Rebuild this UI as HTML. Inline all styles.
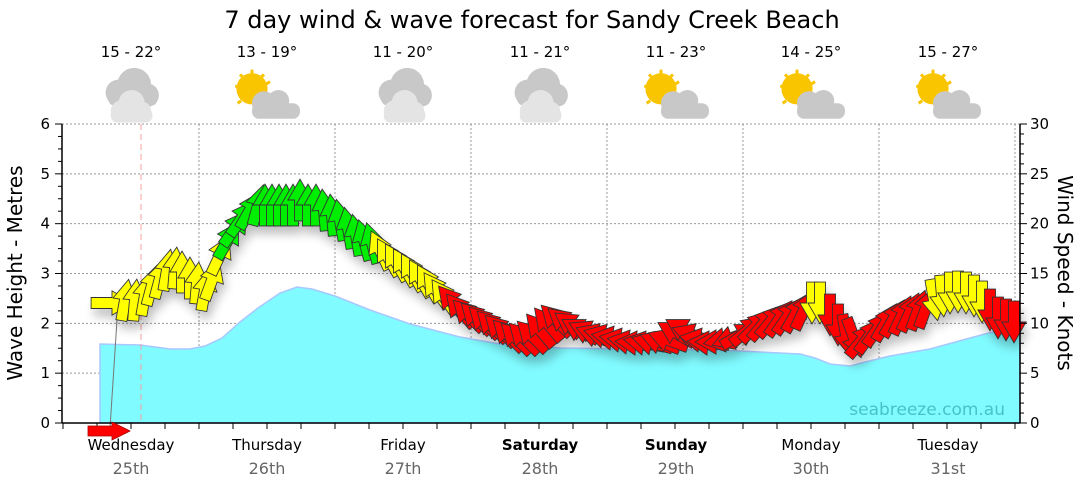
<!DOCTYPE html>
<html><head><meta charset="utf-8"><style>
body{margin:0;background:#fff;width:1080px;height:490px;overflow:hidden}
svg{display:block;font-family:"DejaVu Sans","Liberation Sans",sans-serif}
</style></head><body>
<svg id="s" width="1080" height="490" xmlns="http://www.w3.org/2000/svg">
<defs>
<filter id="sh" x="-20%" y="-20%" width="140%" height="160%"><feGaussianBlur stdDeviation="5"/></filter>
<g id="cloudG"><circle cx="-8" cy="2" r="10" fill="#c8c8c8"/><circle cx="4" cy="-4" r="13" fill="#c8c8c8"/><circle cx="14" cy="4" r="9" fill="#c8c8c8"/><rect x="-16" y="2" width="38" height="10" rx="5" fill="#c8c8c8"/>
<circle cx="-6" cy="16" r="8" fill="#e4e4e4"/><circle cx="2" cy="10" r="10" fill="#e4e4e4"/><circle cx="10" cy="16" r="7" fill="#e4e4e4"/><rect x="-14" y="14" width="32" height="11" rx="5" fill="#e4e4e4"/></g>
<g id="sunG"><g stroke="#f9c400" stroke-width="2.5"><line x1="-10" y1="-22" x2="-10" y2="-18"/><line x1="-24" y1="-8" x2="-20" y2="-8"/><line x1="-20" y1="-18" x2="-17" y2="-15"/><line x1="0" y1="-18" x2="-3" y2="-15"/><line x1="-20" y1="2" x2="-17" y2="-1"/><line x1="5" y1="-12" x2="2" y2="-10"/><line x1="-22" y1="6" x2="-19" y2="4"/></g>
<circle cx="-10" cy="-6" r="13" fill="#f9c400"/>
<circle cx="0" cy="6" r="10" fill="#c8c8c8"/><circle cx="12" cy="4" r="9" fill="#c8c8c8"/><rect x="-10" y="6" width="40" height="13" rx="6" fill="#c8c8c8"/></g>
</defs>
<text x="532" y="28" font-size="24" text-anchor="middle" fill="#000">7 day wind &amp; wave forecast for Sandy Creek Beach</text>
<g font-size="15" text-anchor="middle" fill="#000">
<text x="131" y="57">15 - 22°</text><text x="267" y="57">13 - 19°</text><text x="403" y="57">11 - 20°</text><text x="540" y="57">11 - 21°</text><text x="676" y="57">11 - 23°</text><text x="811" y="57">14 - 25°</text><text x="948" y="57">15 - 27°</text>
</g>
<use href="#cloudG" transform="translate(129,90) scale(1.3)"/><use href="#sunG" transform="translate(264,96) scale(1.2)"/><use href="#cloudG" transform="translate(402,90) scale(1.3)"/><use href="#cloudG" transform="translate(538,90) scale(1.3)"/><use href="#sunG" transform="translate(673,96) scale(1.2)"/><use href="#sunG" transform="translate(809,96) scale(1.2)"/><use href="#sunG" transform="translate(945,96) scale(1.2)"/>
<g id="grid" stroke="#999" stroke-width="1" stroke-dasharray="2,2"></g>
<path id="wave" fill="#80fbff" stroke="#a8c8ff" stroke-width="1.5"/>
<line x1="141" y1="124" x2="141" y2="423" stroke="#f0a0a0" stroke-dasharray="6,4"/>
<text x="1005" y="415" font-size="17" text-anchor="end" fill="#45c4c8">seabreeze.com.au</text>
<line x1="117" y1="320" x2="110" y2="428" stroke="#777" stroke-width="1"/>
<g id="shadow" filter="url(#sh)" opacity="0.25"></g>
<g id="arr" stroke="#333" stroke-width="0.8"></g>
<g id="axes" stroke="#000" stroke-width="1.5"></g>
<g font-size="15" fill="#000" text-anchor="end" id="ly"></g>
<g font-size="15" fill="#000" text-anchor="start" id="ry"></g>
<text transform="translate(22,273) rotate(-90)" font-size="20" text-anchor="middle">Wave Height - Metres</text>
<text transform="translate(1058,273) rotate(90)" font-size="20" text-anchor="middle">Wind Speed - Knots</text>
<g font-size="15" text-anchor="middle" fill="#000">
<text x="131" y="450">Wednesday</text><text x="267" y="450">Thursday</text><text x="403" y="450">Friday</text><text x="540" y="450" font-weight="bold">Saturday</text><text x="676" y="450" font-weight="bold">Sunday</text><text x="811" y="450">Monday</text><text x="948" y="450">Tuesday</text>
</g>
<g font-size="16" text-anchor="middle" fill="#666">
<text x="131" y="474">25th</text><text x="267" y="474">26th</text><text x="403" y="474">27th</text><text x="540" y="474">28th</text><text x="676" y="474">29th</text><text x="811" y="474">30th</text><text x="948" y="474">31st</text>
</g>
<polygon points="88,426 112,426 112,422 130,431 112,440 112,436 88,436" fill="#f00" stroke="#a00" stroke-width="0.8"/>
</svg>
<script>
var NS="http://www.w3.org/2000/svg";
function el(p,t,a,txt){var e=document.createElementNS(NS,t);for(var k in a)e.setAttribute(k,a[k]);if(txt!=null)e.textContent=txt;document.getElementById(p).appendChild(e);return e;}
var X0=62,X1=1020,Y0=423,Y6=124,m=(Y0-Y6)/6;
for(var i=1;i<=6;i++){el('grid','line',{x1:X0,x2:X1,y1:Y0-i*m,y2:Y0-i*m});}
for(var d=0;d<7;d++){var x=199+d*136;if(x<X1)el('grid','line',{x1:x,x2:x,y1:Y6,y2:Y0});}
var pts=[[100,344],[140,345],[170,349],[190,349],[205,346],[222,338],[240,322],[258,308],[280,293],[297,287],[312,289],[335,296],[370,310],[410,324],[460,337],[500,344],[560,348],[640,349],[720,350],[760,352],[800,354],[815,358],[830,364],[850,366],[865,362],[890,356],[930,349],[970,338],[1000,330],[1020,327]];
var d="M100,423 L"+pts.map(function(p){return p.join(",")}).join(" L")+" L1020,423 Z";
document.getElementById('wave').setAttribute('d',d);
el('axes','line',{x1:X0,x2:X0,y1:Y6,y2:Y0});el('axes','line',{x1:X1,x2:X1,y1:Y6,y2:Y0});el('axes','line',{x1:X0,x2:X1,y1:Y0,y2:Y0});
for(var i=0;i<=24;i++){var y=Y0-i*m/4;el('axes','line',{x1:X0-(i%4?4:7),x2:X0,y1:y,y2:y,'stroke-width':1});}
for(var i=0;i<=30;i++){var y=Y0-i*m/5;el('axes','line',{x1:X1,x2:X1+(i%5?4:7),y1:y,y2:y,'stroke-width':1});}
for(var x=63;x<X1;x+=34)el('axes','line',{x1:x,x2:x,y1:Y0,y2:Y0+6,'stroke-width':1});
for(var i=0;i<=6;i++)el('ly','text',{x:50,y:Y0-i*m+5},i);
for(var i=0;i<=6;i++)el('ry','text',{x:1030,y:Y0-i*m+5},i*5);
var R="#ff0000",Yl="#ffff00",G="#00ee00";
var A=[[112,303,90,Yl],[125,300,10,Yl],[135,300,5,Yl],[145,295,10,Yl],[152,285,15,Yl],[160,278,15,Yl],[167,270,10,Yl],[175,268,5,Yl],[182,272,0,Yl],[190,278,0,Yl],[197,283,5,Yl],[205,290,10,Yl],[212,280,20,Yl],[220,255,25,Yl],
[228,240,30,G],[235,228,35,G],[242,218,35,G],[250,210,30,G],[258,205,15,G],[265,205,0,G],[272,205,0,G],[279,205,0,G],[286,205,0,G],[293,205,0,G],[300,200,0,G],[308,205,0,G],[316,205,0,G],[324,210,-5,G],[332,215,-5,G],[340,220,-10,G],[348,228,-10,G],[356,235,-10,G],[364,240,-15,G],[372,243,-15,G],
[380,250,-25,Yl],[388,257,-30,Yl],[396,262,-30,Yl],[404,267,-30,Yl],[412,272,-30,Yl],[420,278,-30,Yl],[428,283,-30,Yl],[436,290,-35,Yl],[444,297,-35,Yl],
[452,302,-40,R],[460,310,-40,R],[468,315,-45,R],[476,318,-45,R],[484,322,-45,R],[492,326,-45,R],[500,330,-45,R],[508,335,-45,R],[516,338,-45,R],[524,338,-45,R],[532,336,-45,R],[540,330,-40,R],[548,324,-40,R],[556,320,-45,R],[564,322,-50,R],[572,325,-55,R],[580,330,-60,R],[588,332,-65,R],[596,335,-70,R],[604,336,-75,R],[612,338,-80,R],[620,340,-80,R],[628,342,-80,R],[636,343,-85,R],[644,343,-80,R],[652,343,-75,R],[660,342,-70,R],[668,340,-70,R],[676,333,-60,R],[684,330,-60,R],[692,335,-70,R],[700,340,-80,R],[708,343,-85,R],[716,342,-90,R],[724,340,-100,R],[732,338,-110,R],[740,335,60,R],[748,330,50,R],[756,326,45,R],[764,323,40,R],[772,320,40,R],[780,318,35,R],[788,316,35,R],[796,313,30,R],[804,310,25,R],
[812,303,180,Yl],[820,303,180,Yl],[830,315,180,R],[838,325,180,R],[846,335,170,R],[854,338,160,R],[862,340,40,R],[870,335,35,R],[878,328,35,R],[886,322,30,R],[894,318,30,R],[902,315,25,R],[910,312,25,R],[918,310,20,R],[926,308,20,R],
[934,300,170,Yl],[942,296,175,Yl],[950,293,180,Yl],[958,292,180,Yl],[966,293,180,Yl],[974,296,180,Yl],[982,302,180,Yl],[990,310,180,R],[998,318,180,R],[1006,320,180,R],[1014,322,180,R]];
function shape(x,y,a,c,g){var s="M-5,19 L-5,0 L-11,0 L0,-19 L11,0 L5,0 L5,19 Z";
 var o={d:s,transform:"translate("+x+","+y+") rotate("+a+") scale(1.1)"};if(g=='arr')o.fill=c;else o.fill="#000";el(g,'path',o);}
A.forEach(function(p){shape(p[0]+3,p[1]+8,p[2],p[3],'shadow');});
A.forEach(function(p){shape(p[0],p[1],p[2],p[3],'arr');});
</script>
</body></html>
